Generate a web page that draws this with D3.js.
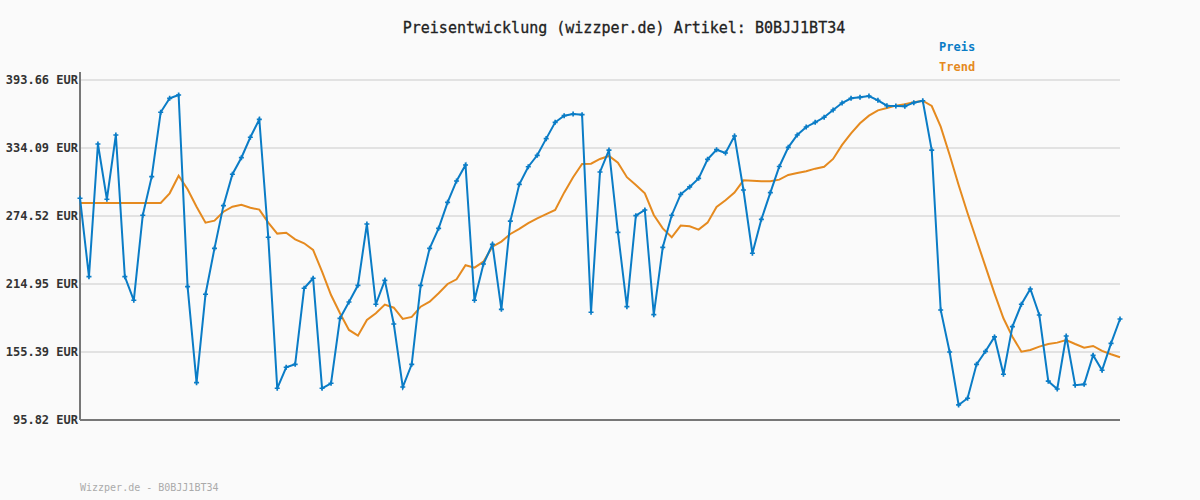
<!DOCTYPE html>
<html lang="de">
<head>
<meta charset="UTF-8">
<title>Preisentwicklung</title>
<script src="https://d3js.org/d3.v7.min.js"></script>
<style>
  body { margin: 0; background: #fafafa; }
  svg { display: block; font-family: "DejaVu Sans Mono", monospace; }
</style>
</head>
<body>
<svg width="1200" height="500"></svg>
<script>
const yTicks = [95.82, 155.39, 214.95, 274.52, 334.09, 393.66];

const preis = [290.1, 221.4, 337.6, 289.2, 345.5, 221.4, 200.7, 275.2, 309.0, 365.4,
  377.6, 380.5, 212.6, 128.5, 206.0, 246.2, 283.6, 311.1, 325.6, 343.5,
  359.2, 255.9, 123.6, 142.0, 144.6, 211.2, 220.0, 123.6, 128.0, 184.9,
  199.2, 213.8, 267.5, 197.2, 218.2, 179.9, 124.7, 144.6, 213.8, 246.2,
  263.7, 286.5, 305.2, 319.2, 200.7, 232.5, 249.7, 192.8, 270.1, 302.3,
  317.7, 327.7, 342.3, 356.6, 362.4, 363.9, 363.3, 190.2, 313.1, 332.3,
  260.2, 195.1, 274.8, 279.8, 188.1, 247.1, 275.2, 293.5, 300.0, 307.5,
  324.2, 332.6, 329.7, 344.6, 297.3, 241.9, 271.6, 295.0, 317.9, 334.7,
  345.5, 352.5, 356.6, 361.0, 367.4, 373.5, 377.6, 378.5, 379.6, 375.9,
  371.2, 370.9, 370.6, 373.8, 375.5, 332.3, 192.2, 155.4, 109.0, 114.9,
  144.6, 156.0, 168.6, 135.9, 177.6, 197.2, 210.6, 187.8, 129.8, 123.0,
  169.4, 126.3, 127.1, 152.5, 139.4, 163.0, 184.3];

const trend = [285.9, 285.9, 285.9, 285.9, 285.9, 285.9, 285.9, 285.9, 285.9, 285.9,
  294.4, 309.8, 297.9, 282.7, 268.7, 270.4, 278.3, 282.7, 284.4, 281.8,
  280.1, 268.7, 259.1, 259.9, 254.1, 250.6, 244.8, 225.8, 205.3, 189.3,
  174.7, 169.7, 183.4, 189.3, 196.9, 194.2, 184.3, 186.1, 195.1, 199.5,
  206.8, 215.0, 219.1, 231.4, 229.3, 234.5, 247.7, 252.1, 258.8, 263.2,
  268.2, 272.5, 276.1, 279.8, 295.0, 308.5, 320.1, 320.3, 324.5, 327.1,
  321.3, 308.5, 301.7, 294.4, 275.4, 263.7, 255.9, 266.1, 265.5, 262.6,
  268.7, 282.4, 288.3, 295.0, 305.8, 305.5, 305.0, 305.0, 306.4, 310.5,
  312.2, 313.7, 316.0, 317.7, 324.5, 336.8, 347.0, 355.8, 362.4, 367.1,
  369.1, 371.2, 372.4, 374.2, 375.5, 370.9, 352.8, 328.0, 301.7, 276.9,
  253.5, 230.2, 206.8, 184.9, 168.8, 155.7, 157.2, 160.1, 162.4, 163.6,
  165.9, 162.4, 159.2, 160.7, 156.3, 153.4, 150.8];

const blue = "#0a7cc6", orange = "#e58a1f";
const svg = d3.select("svg");
const mLeft = 80, mRight = 1120, mTop = 80, mBottom = 420;

const x = d3.scaleLinear().domain([0, preis.length - 1]).range([mLeft, mRight]);
const y = d3.scaleLinear().domain([yTicks[0], yTicks[yTicks.length - 1]]).range([mBottom, mTop]);

svg.append("rect").attr("width", 1200).attr("height", 500).attr("fill", "#fafafa");

// grid
svg.append("g").selectAll("line").data(yTicks.slice(1)).join("line")
  .attr("x1", mLeft).attr("x2", mRight)
  .attr("y1", d => y(d)).attr("y2", d => y(d))
  .attr("stroke", "#e2e2e2").attr("stroke-width", 2);

// y labels
svg.append("g").selectAll("text").data(yTicks).join("text")
  .attr("x", mLeft - 2).attr("y", d => y(d) + 4)
  .attr("text-anchor", "end").attr("font-size", 12).attr("font-weight", "bold")
  .attr("fill", "#333")
  .text(d => d.toFixed(2) + " EUR");

// axes lines
svg.append("line").attr("x1", mLeft).attr("x2", mLeft).attr("y1", mTop - 8).attr("y2", mBottom)
  .attr("stroke", "#777").attr("stroke-width", 2);
svg.append("line").attr("x1", mLeft).attr("x2", mRight).attr("y1", mBottom).attr("y2", mBottom)
  .attr("stroke", "#777").attr("stroke-width", 2);

const line = d3.line().x((d, i) => x(i)).y(d => y(d));

svg.append("path").datum(trend).attr("d", line)
  .attr("fill", "none").attr("stroke", orange).attr("stroke-width", 2);

svg.append("path").datum(preis).attr("d", line)
  .attr("fill", "none").attr("stroke", blue).attr("stroke-width", 2);

const sym = d3.symbol().type(d3.symbolCross).size(14);
svg.append("g").selectAll("path").data(preis).join("path")
  .attr("transform", (d, i) => `translate(${x(i)},${y(d)})`)
  .attr("d", sym).attr("fill", blue);

// title
svg.append("text").attr("x", 624).attr("y", 33).attr("text-anchor", "middle")
  .attr("font-size", 15).attr("fill", "#222").attr("stroke", "#222").attr("stroke-width", 0.3)
  .text("Preisentwicklung (wizzper.de) Artikel: B0BJJ1BT34");

// legend
svg.append("text").attr("x", 939).attr("y", 51).attr("font-size", 12).attr("font-weight", "bold")
  .attr("fill", blue).text("Preis");
svg.append("text").attr("x", 939).attr("y", 71).attr("font-size", 12).attr("font-weight", "bold")
  .attr("fill", orange).text("Trend");

// footer
svg.append("text").attr("x", 80).attr("y", 491).attr("font-size", 10)
  .attr("fill", "#aaa").text("Wizzper.de - B0BJJ1BT34");
</script>
</body>
</html>
